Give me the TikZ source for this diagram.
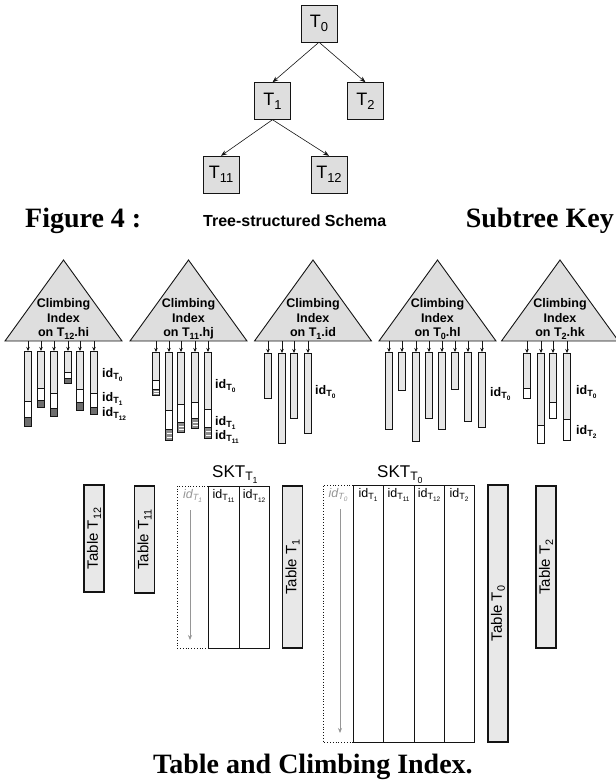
\documentclass[tikz,border=0pt]{standalone}
\usepackage{fontspec}
\setmainfont{Liberation Serif}
\setsansfont{Liberation Sans}
\usepackage{graphicx}
\usepackage{tikz}
\usetikzlibrary{arrows.meta,positioning,calc}
\definecolor{ink}{RGB}{20,20,20}
\definecolor{boxg}{RGB}{222,222,222}
\definecolor{barg}{RGB}{230,230,230}
\definecolor{tabg}{RGB}{232,232,232}
\definecolor{darkg}{RGB}{110,110,110}
\definecolor{midg}{RGB}{140,140,140}
\definecolor{hint}{RGB}{150,150,150}
\newcommand{\sbs}[1]{\raisebox{-0.4ex}{\scalebox{0.72}{#1}}}
\tikzset{
  tnode/.style={draw=ink,fill=boxg,minimum width=36pt,minimum height=37pt,inner sep=0pt,
    font=\sffamily\fontsize{18}{18}\selectfont},
  arr/.style={-{Stealth[length=6pt,width=4.5pt]},line width=0.6pt,ink},
  tri/.style={draw=ink,fill=boxg,line width=0.9pt},
  trilab/.style={font=\sffamily\bfseries\fontsize{12.5}{14.5}\selectfont,align=center,inner sep=0pt},
  ptr/.style={-{Stealth[length=4pt,width=3.5pt]},line width=0.8pt,ink},
  seg/.style={draw=ink,line width=0.9pt},
  idlab/.style={font=\sffamily\bfseries\fontsize{12.5}{12.5}\selectfont,anchor=base west,inner sep=0pt},
  tab/.style={draw=ink,fill=tabg,line width=1.1pt,rotate=90,minimum height=20pt,inner sep=0pt,
    font=\sffamily\fontsize{15}{15}\selectfont},
  col/.style={draw=ink,line width=0.9pt},
  dcol/.style={draw=ink,dotted,line width=0.8pt},
  hdr/.style={font=\sffamily\fontsize{12.5}{12.5}\selectfont,anchor=base,inner sep=0pt},
  ghdr/.style={hdr,text=hint,font=\sffamily\itshape\fontsize{12.5}{12.5}\selectfont},
  down/.style={-{Stealth[length=5pt,width=4pt]},line width=0.8pt,hint},
  skt/.style={font=\sffamily\fontsize{17}{17}\selectfont,anchor=base west,inner sep=0pt},
  captxt/.style={font=\rmfamily\bfseries\fontsize{28}{28}\selectfont,inner sep=0pt},
}

\begin{document}
\begin{tikzpicture}[x=1pt,y=-1pt]
\useasboundingbox (0,0) rectangle (616,780);
% schema tree
\node[tnode] (t0) at (319,23.5) {T\sbs{0}};
\node[tnode] (t1) at (272.5,101) {T\sbs{1}};
\node[tnode] (t2) at (365.5,101) {T\sbs{2}};
\node[tnode] (t11) at (221,174.5) {T\sbs{11}};
\node[tnode] (t12) at (329,174.5) {T\sbs{12}};
\foreach \a/\b in {t0/t1,t0/t2,t1/t11,t1/t12}{
  \draw[arr] (\a.south) -- (\b.north);
}
\node[captxt,anchor=base west] (fig) at (25,227) {Figure 4 :};
\node[font=\sffamily\bfseries\fontsize{16}{16}\selectfont,anchor=base west,inner sep=0pt] (schema) at (203,226) {Tree-structured Schema};
\node[captxt,anchor=base east] (key) at (614,227) {Subtree Key};

% climbing indexes
\foreach \i/\c/\lab in {1/63.5/{T\sbs{12}.hi},2/188.5/{T\sbs{11}.hj},3/313/{T\sbs{1}.id},
    4/437.5/{T\sbs{0}.hl},5/560/{T\sbs{2}.hk}}{
  \draw[tri] (\c-58.5,341) -- (\c,260) -- (\c+58.5,341) -- cycle;
  \node[trilab] (ci\i) at (\c,319) {Climbing\\Index\\on \lab};
}

% bars of the T12 index
\foreach \x/\a/\b/\c [count=\i] in {28/401/417/426,41/388/400/407,54/393/408/416,
    68/372/378/383,80/389/402/410,94/393/407/414}{
  \coordinate (pa\i) at (\x,341);
  \coordinate (qa\i) at (\x,351);
  \draw[ptr] (pa\i) -- (qa\i);
  \draw[seg,fill=barg] (\x-3.2,351) rectangle (\x+3.2,\a);
  \draw[seg,fill=white] (\x-3.2,\a) rectangle (\x+3.2,\b);
  \draw[seg,fill=darkg] (\x-3.2,\b) rectangle (\x+3.2,\c);
}
\node[idlab] (la0) at (102,377) {id\sbs{T\sbs{0}}};
\node[idlab] (la1) at (102,401) {id\sbs{T\sbs{1}}};
\node[idlab] (la12) at (102,416) {id\sbs{T\sbs{12}}};

% bars of the T11 index
\foreach \x/\a/\b/\c [count=\i] in {156/380/389/395,169/410/429/440,181/404/422/432,
    195/402/418/428,208/409/427/438}{
  \coordinate (pb\i) at (\x,341);
  \coordinate (qb\i) at (\x,352);
  \draw[ptr] (pb\i) -- (qb\i);
  \draw[seg,fill=barg] (\x-3.2,352) rectangle (\x+3.2,\a);
  \draw[seg,fill=white] (\x-3.2,\a) rectangle (\x+3.2,\b);
  \draw[seg,fill=midg] (\x-3.2,\b) rectangle (\x+3.2,\c);
  \draw[white,line width=0.7pt] (\x-2.5,{\b+(\c-\b)*0.4}) -- (\x+2.5,{\b+(\c-\b)*0.4});
  \draw[white,line width=0.7pt] (\x-2.5,{\b+(\c-\b)*0.75}) -- (\x+2.5,{\b+(\c-\b)*0.75});
}
\node[idlab] (lb0) at (215,388) {id\sbs{T\sbs{0}}};
\node[idlab] (lb1) at (215,425) {id\sbs{T\sbs{1}}};
\node[idlab] (lb11) at (215,439) {id\sbs{T\sbs{11}}};

% bars of the T1 index
\foreach \x/\c [count=\i] in {268/398,282/443,294/418,308/433}{
  \coordinate (pc\i) at (\x,341);
  \coordinate (qc\i) at (\x,353);
  \draw[ptr] (pc\i) -- (qc\i);
  \draw[seg,fill=barg] (\x-3.3,353) rectangle (\x+3.3,\c);
}
\node[idlab] (lc0) at (315,394) {id\sbs{T\sbs{0}}};

% bars of the T0 index
\foreach \x/\c [count=\i] in {389/429,402/390,416/441,429/418,442/429,455/389,468/421,482/427}{
  \coordinate (pd\i) at (\x,341);
  \coordinate (qd\i) at (\x,352);
  \draw[ptr] (pd\i) -- (qd\i);
  \draw[seg,fill=barg] (\x-3.3,352) rectangle (\x+3.3,\c);
}
\node[idlab] (ld0) at (490,396) {id\sbs{T\sbs{0}}};

% bars of the T2 index
\foreach \x/\a/\b [count=\i] in {527/388/398,541/425/443,553/402/418,567/419/440}{
  \coordinate (pe\i) at (\x,341);
  \coordinate (qe\i) at (\x,353);
  \draw[ptr] (pe\i) -- (qe\i);
  \draw[seg,fill=barg] (\x-3.3,353) rectangle (\x+3.3,\a);
  \draw[seg,fill=white] (\x-3.3,\a) rectangle (\x+3.3,\b);
}
\node[idlab] (le0) at (576,394) {id\sbs{T\sbs{0}}};
\node[idlab] (le2) at (576,434) {id\sbs{T\sbs{2}}};

% tables
\node[tab,minimum width=107pt] (tT12) at (94,538.5) {Table T\sbs{12}};
\node[tab,minimum width=107pt] (tT11) at (144.5,539.5) {Table T\sbs{11}};
\node[tab,minimum width=162pt] (tT1) at (292.5,567) {Table T\sbs{1}};
\node[tab,minimum width=257pt] (tT0) at (498,613.5) {Table T\sbs{0}};
\node[tab,minimum width=162pt] (tT2) at (546,567) {Table T\sbs{2}};

% subtree key of T1
\draw[dcol] (208,486) -- (177,486) -- (177,648) -- (208,648);
\draw[col] (208,486) rectangle (269,648);
\draw[col] (239,486) -- (239,648);
\node[ghdr] (ha1) at (192.5,498) {id\sbs{T\sbs{1}}};
\node[hdr] (ha11) at (223.5,498) {id\sbs{T\sbs{11}}};
\node[hdr] (ha12) at (254,498) {id\sbs{T\sbs{12}}};
\coordinate (sa) at (190,510);
\coordinate (ea) at (190,640);
\draw[down] (sa) -- (ea);
\node[skt] (skt1) at (212,477) {SKT\sbs{T\sbs{1}}};

% subtree key of T0
\draw[dcol] (353,485) -- (323,485) -- (323,742) -- (353,742);
\draw[col] (353,485) rectangle (474,742);
\foreach \x in {383,414,444}{
  \draw[col] (\x,485) -- (\x,742);
}
\node[ghdr] (hb0) at (338,497) {id\sbs{T\sbs{0}}};
\foreach \x/\lab/\n in {368/1/1,398.5/11/11,429/12/12,459/2/2}{
  \node[hdr] (hb\n) at (\x,497) {id\sbs{T\sbs{\lab}}};
}
\coordinate (sb) at (340,509);
\coordinate (eb) at (340,733);
\draw[down] (sb) -- (eb);
\node[skt] (skt0) at (377,477) {SKT\sbs{T\sbs{0}}};

\node[captxt,anchor=base] (title) at (313,773) {Table and Climbing Index.};
\end{tikzpicture}
\end{document}
